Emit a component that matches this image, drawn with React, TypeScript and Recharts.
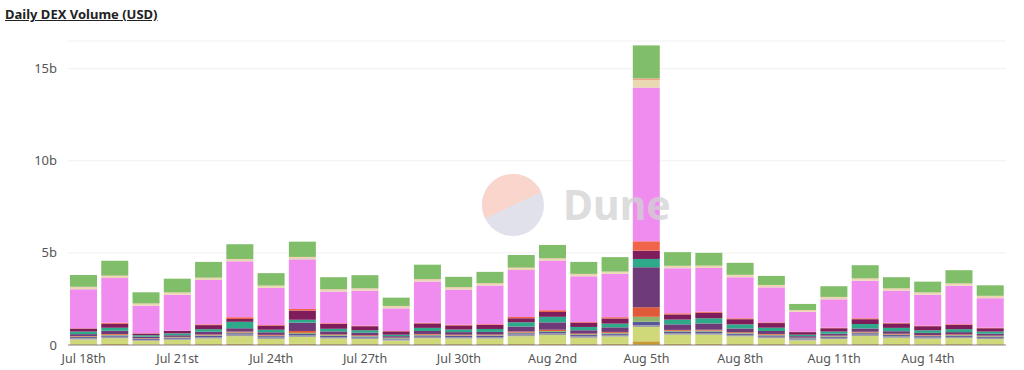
import { Bar, BarChart, CartesianGrid, XAxis, YAxis } from "recharts";

const days = [
  "Jul 18th", "Jul 19th", "Jul 20th", "Jul 21st", "Jul 22nd", "Jul 23rd", "Jul 24th", "Jul 25th",
  "Jul 26th", "Jul 27th", "Jul 28th", "Jul 29th", "Jul 30th", "Jul 31st", "Aug 1st", "Aug 2nd",
  "Aug 3rd", "Aug 4th", "Aug 5th", "Aug 6th", "Aug 7th", "Aug 8th", "Aug 9th", "Aug 10th",
  "Aug 11th", "Aug 12th", "Aug 13th", "Aug 14th", "Aug 15th", "Aug 16th",
];

// volumes in billions USD, bottom of the stack first
const gold = [0.04, 0.05, 0.03, 0.04, 0.05, 0.06, 0.05, 0.06, 0.05, 0.05, 0.04, 0.05, 0.05, 0.05, 0.06, 0.06, 0.05, 0.06, 0.2, 0.06, 0.06, 0.05, 0.05, 0.03, 0.04, 0.05, 0.05, 0.04, 0.05, 0.04];
const khaki = [0.26, 0.32, 0.2, 0.24, 0.3, 0.42, 0.28, 0.38, 0.3, 0.28, 0.2, 0.32, 0.3, 0.3, 0.42, 0.48, 0.34, 0.4, 0.78, 0.5, 0.5, 0.42, 0.32, 0.22, 0.28, 0.44, 0.34, 0.3, 0.32, 0.28];
const grey = [0.07, 0.08, 0.05, 0.06, 0.08, 0.09, 0.08, 0.08, 0.08, 0.07, 0.06, 0.08, 0.07, 0.08, 0.09, 0.09, 0.08, 0.09, 0.1, 0.09, 0.09, 0.08, 0.08, 0.06, 0.07, 0.08, 0.08, 0.07, 0.07, 0.07];
const blue = [0.06, 0.07, 0.05, 0.05, 0.07, 0.07, 0.07, 0.08, 0.07, 0.06, 0.05, 0.07, 0.07, 0.07, 0.07, 0.08, 0.07, 0.07, 0.18, 0.08, 0.08, 0.07, 0.07, 0.05, 0.06, 0.07, 0.07, 0.07, 0.07, 0.06];
const olive = [0.03, 0.04, 0.02, 0.03, 0.03, 0.04, 0.03, 0.06, 0.04, 0.03, 0.03, 0.04, 0.03, 0.03, 0.04, 0.05, 0.04, 0.04, 0.27, 0.04, 0.05, 0.04, 0.04, 0.02, 0.03, 0.04, 0.03, 0.03, 0.03, 0.03];
const red = [0.03, 0.04, 0.02, 0.02, 0.04, 0.05, 0.04, 0.1, 0.04, 0.04, 0.02, 0.04, 0.04, 0.04, 0.05, 0.07, 0.04, 0.05, 0.52, 0.05, 0.05, 0.04, 0.04, 0.02, 0.03, 0.04, 0.04, 0.03, 0.04, 0.03];
const purple = [0.1, 0.17, 0.08, 0.09, 0.15, 0.18, 0.14, 0.45, 0.16, 0.14, 0.08, 0.16, 0.14, 0.14, 0.28, 0.4, 0.18, 0.25, 2.17, 0.3, 0.34, 0.2, 0.16, 0.08, 0.1, 0.18, 0.14, 0.12, 0.12, 0.1];
const teal = [0.14, 0.17, 0.08, 0.1, 0.14, 0.35, 0.14, 0.16, 0.14, 0.13, 0.08, 0.17, 0.14, 0.16, 0.22, 0.3, 0.18, 0.2, 0.45, 0.26, 0.28, 0.22, 0.18, 0.08, 0.12, 0.24, 0.18, 0.14, 0.16, 0.12];
const magenta = [0.16, 0.22, 0.09, 0.13, 0.22, 0.15, 0.22, 0.5, 0.26, 0.22, 0.18, 0.24, 0.22, 0.22, 0.22, 0.26, 0.23, 0.28, 0.45, 0.28, 0.3, 0.28, 0.25, 0.14, 0.18, 0.26, 0.24, 0.22, 0.23, 0.18];
const coral = [0.02, 0.05, 0.02, 0.02, 0.04, 0.1, 0.04, 0.09, 0.04, 0.03, 0.02, 0.04, 0.04, 0.04, 0.07, 0.1, 0.04, 0.07, 0.51, 0.06, 0.06, 0.05, 0.04, 0.02, 0.03, 0.05, 0.04, 0.03, 0.04, 0.03];
const pink = [2.12, 2.43, 1.49, 1.95, 2.41, 3.03, 2.01, 2.69, 1.72, 1.9, 1.23, 2.24, 1.91, 2.1, 2.55, 2.69, 2.48, 2.35, 8.34, 2.45, 2.37, 2.23, 1.9, 1.08, 1.54, 2.04, 1.74, 1.68, 2.09, 1.6];
const beige = [0.11, 0.11, 0.11, 0.11, 0.11, 0.11, 0.11, 0.11, 0.11, 0.11, 0.11, 0.11, 0.11, 0.11, 0.11, 0.11, 0.11, 0.11, 0.4, 0.11, 0.11, 0.11, 0.11, 0.08, 0.11, 0.11, 0.11, 0.11, 0.11, 0.11];
const salmon = [0.02, 0.02, 0.02, 0.02, 0.02, 0.02, 0.02, 0.02, 0.02, 0.02, 0.02, 0.02, 0.02, 0.02, 0.02, 0.02, 0.02, 0.02, 0.1, 0.02, 0.02, 0.02, 0.02, 0.02, 0.02, 0.02, 0.02, 0.02, 0.02, 0.02];
const green = [0.64, 0.8, 0.6, 0.74, 0.85, 0.8, 0.67, 0.83, 0.65, 0.71, 0.45, 0.78, 0.56, 0.61, 0.69, 0.72, 0.65, 0.78, 1.79, 0.74, 0.69, 0.65, 0.49, 0.33, 0.58, 0.71, 0.6, 0.58, 0.71, 0.57];

const yTicks = [0, 5, 10, 15];

const series = [
  { key: "gold", values: gold, color: "#c99a30" },
  { key: "khaki", values: khaki, color: "#cfd97a" },
  { key: "grey", values: grey, color: "#9c99a8" },
  { key: "blue", values: blue, color: "#57579a" },
  { key: "olive", values: olive, color: "#8db46a" },
  { key: "red", values: red, color: "#e05a3a" },
  { key: "purple", values: purple, color: "#6e3a78" },
  { key: "teal", values: teal, color: "#2eaa8a" },
  { key: "magenta", values: magenta, color: "#7e1c5c" },
  { key: "coral", values: coral, color: "#f0654a" },
  { key: "pink", values: pink, color: "#f08cf0" },
  { key: "beige", values: beige, color: "#e8d9b2" },
  { key: "salmon", values: salmon, color: "#f2a384" },
  { key: "green", values: green, color: "#80be6a" },
];

const data = days.map((day, i) => {
  const row: Record<string, string | number> = { day };
  series.forEach((s) => {
    row[s.key] = s.values[i];
  });
  return row;
});

const font = "'Noto Sans', 'Open Sans', sans-serif";

export default function App() {
  return (
    <div style={{ position: "relative", width: 1024, height: 370, background: "#fff", fontFamily: font }}>
      <style>{"body{margin:0}"}</style>
      <div
        style={{
          position: "absolute",
          left: 5,
          top: 5,
          fontSize: 13,
          fontWeight: 700,
          color: "#222",
          textDecoration: "underline",
        }}
      >
        Daily DEX Volume (USD)
      </div>
      <BarChart
        width={1024}
        height={370}
        data={data}
        margin={{ top: 41, right: 18, bottom: 5, left: 8 }}
        barCategoryGap={2}
      >
        <CartesianGrid vertical={false} stroke="#f0f0f0" />
        <XAxis
          dataKey="day"
          interval={2}
          tickLine={false}
          axisLine={{ stroke: "#8a8a8a" }}
          height={20}
          tickMargin={3}
          tick={{ fontSize: 12.5, fill: "#555", fontFamily: font }}
        />
        <YAxis
          width={60}
          domain={[0, 16.5]}
          ticks={yTicks}
          axisLine={false}
          tickLine={false}
          tickMargin={5}
          tickFormatter={(v: number) => (v === 0 ? "0" : `${v}b`)}
          tick={{ fontSize: 13, fill: "#555", fontFamily: font }}
        />
        {series.map((s) => (
          <Bar key={s.key} dataKey={s.key} stackId="v" fill={s.color} isAnimationActive={false} />
        ))}
      </BarChart>
      <svg
        width={1024}
        height={370}
        style={{ position: "absolute", left: 0, top: 0, pointerEvents: "none", opacity: 0.75 }}
      >
        <defs>
          <clipPath id="duneClip">
            <circle cx={513} cy={205} r={31} />
          </clipPath>
        </defs>
        <g clipPath="url(#duneClip)">
          <rect x={480} y={170} width={70} height={70} fill="#d8d8e6" />
          <polygon points="478,222 550,188 550,170 478,170" fill="#f8c7bb" />
        </g>
        <text
          x={563}
          y={220}
          fontSize={41}
          fontWeight={700}
          fill="#d2d2d2"
          fontFamily={font}
        >
          Dune
        </text>
      </svg>
    </div>
  );
}
